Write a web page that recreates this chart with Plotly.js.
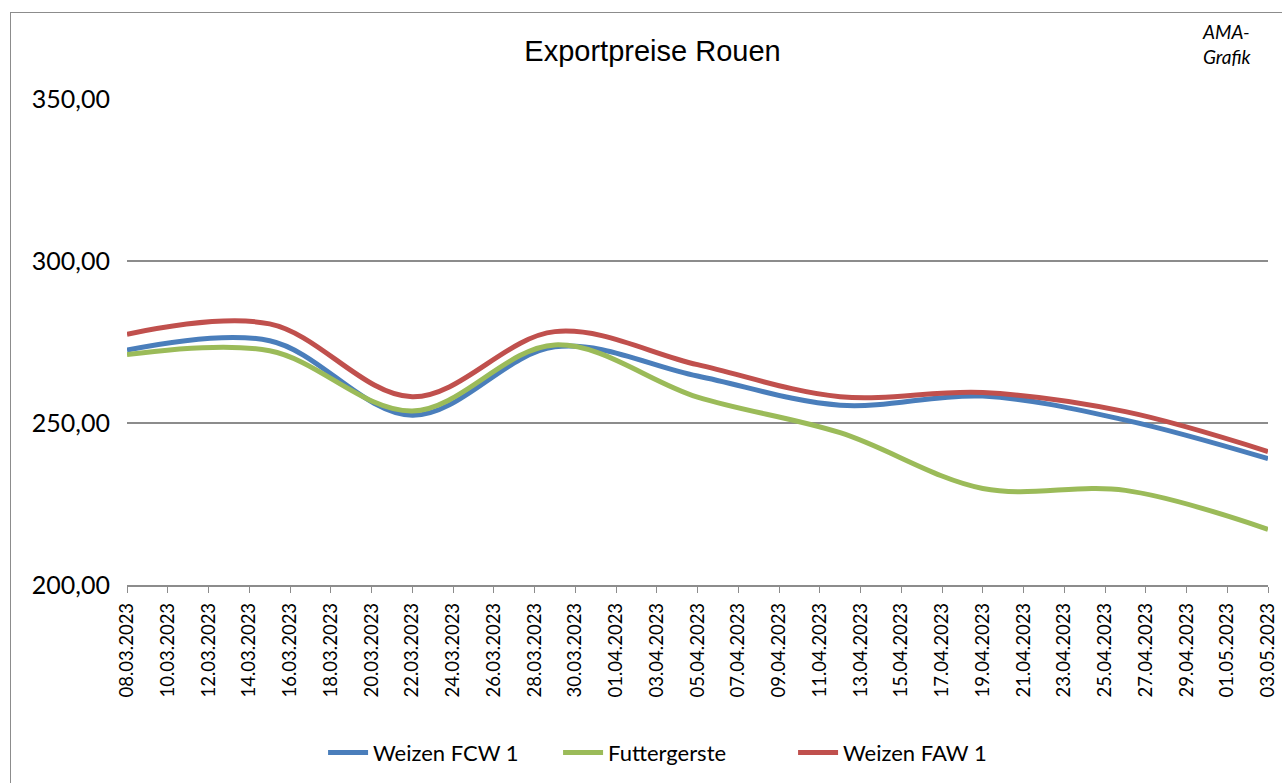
<!DOCTYPE html>
<html>
<head>
<meta charset="utf-8">
<script src="https://cdn.plot.ly/plotly-3.0.1.min.js"></script>
<style>
  html, body { margin: 0; padding: 0; background: #ffffff; }
  #wrap { position: relative; width: 1282px; height: 783px; overflow: hidden; }
  #chart { position: absolute; left: 0; top: 0; width: 1282px; height: 783px; }
  #frame { position: absolute; left: 10px; top: 12px; width: 1290px; height: 800px;
           border: 1px solid #8c8c8c; box-sizing: border-box; pointer-events: none; }
</style>
</head>
<body>
<div id="wrap">
  <div id="chart"></div>
  <div id="frame"></div>
</div>
<script>
// Data (weekly quotations, EUR/t)
const dates = ['2023-03-08','2023-03-15','2023-03-22','2023-03-29','2023-04-05',
               '2023-04-12','2023-04-19','2023-04-26','2023-05-03'];
const weizenFCW = [272.5, 275.4, 252.4, 273.5, 264.5, 255.5, 258.3, 250.9, 239.0];
const futtergerste = [271.1, 272.3, 253.7, 274.1, 258.0, 247.0, 229.8, 229.2, 217.2];
const weizenFAW = [277.4, 280.6, 258.1, 278.2, 268.0, 258.1, 259.4, 253.5, 241.2];
const seriesNames = ['Weizen FCW 1', 'Futtergerste', 'Weizen FAW 1'];
const yTicks = [200, 250, 300, 350];

const colors = ['#4a7ebb', '#9bbb59', '#c0504d'];
const allSeries = [weizenFCW, futtergerste, weizenFAW];

const traces = allSeries.map((vals, i) => ({
  x: dates,
  y: vals,
  name: seriesNames[i],
  type: 'scatter',
  mode: 'lines',
  line: { color: colors[i], width: 5, shape: 'spline', smoothing: 1 },
  hoverinfo: 'x+y+name'
}));

const font = 'Lato, "Open Sans", "Liberation Sans", sans-serif';

const layout = {
  width: 1282,
  height: 783,
  paper_bgcolor: '#ffffff',
  plot_bgcolor: '#ffffff',
  separators: ',.',
  margin: { l: 127, r: 14, t: 99, b: 198 },
  title: {
    text: 'Exportpreise Rouen',
    font: { family: '"Liberation Sans", Arial, sans-serif', size: 29, color: '#000000' },
    xref: 'container', yref: 'container',
    x: 0.509, xanchor: 'center',
    y: 0.935, yanchor: 'middle'
  },
  xaxis: {
    type: 'date',
    range: ['2023-03-08', '2023-05-03'],
    tick0: '2023-03-08',
    dtick: 2 * 86400000,
    tickformat: '%d.%m.%Y',
    tickangle: -90,
    ticks: 'outside',
    ticklen: 6,
    tickcolor: '#8c8c8c',
    tickwidth: 1,
    showline: true,
    linecolor: '#8c8c8c',
    linewidth: 1.5,
    showgrid: false,
    zeroline: false,
    ticklabelstandoff: 3,
    tickfont: { family: font, size: 18.5, color: '#000000' },
    fixedrange: true
  },
  yaxis: {
    range: [200, 350],
    tickvals: yTicks,
    tickformat: '.2f',
    showgrid: true,
    gridcolor: '#8c8c8c',
    gridwidth: 1.5,
    showline: false,
    zeroline: false,
    ticks: '',
    ticklabelstandoff: 16,
    tickfont: { family: font, size: 25, color: '#000000' },
    fixedrange: true
  },
  showlegend: true,
  legend: {
    orientation: 'h',
    xref: 'container', yref: 'container',
    x: 0.252, xanchor: 'left',
    y: 0.012, yanchor: 'bottom',
    font: { family: font, size: 22, color: '#000000' },
    itemwidth: 40,
    entrywidth: 180,
    bgcolor: 'rgba(0,0,0,0)',
    traceorder: 'normal'
  },
  annotations: [
    {
      text: 'AMA-<br>Grafik',
      xref: 'paper', yref: 'paper',
      x: 0.94, xanchor: 'left',
      y: 1.166, yanchor: 'top',
      showarrow: false,
      align: 'left',
      font: { family: font, size: 19, color: '#000000', style: 'italic' }
    }
  ]
};

Plotly.newPlot('chart', traces, layout, { displayModeBar: false, staticPlot: true });
</script>
</body>
</html>
